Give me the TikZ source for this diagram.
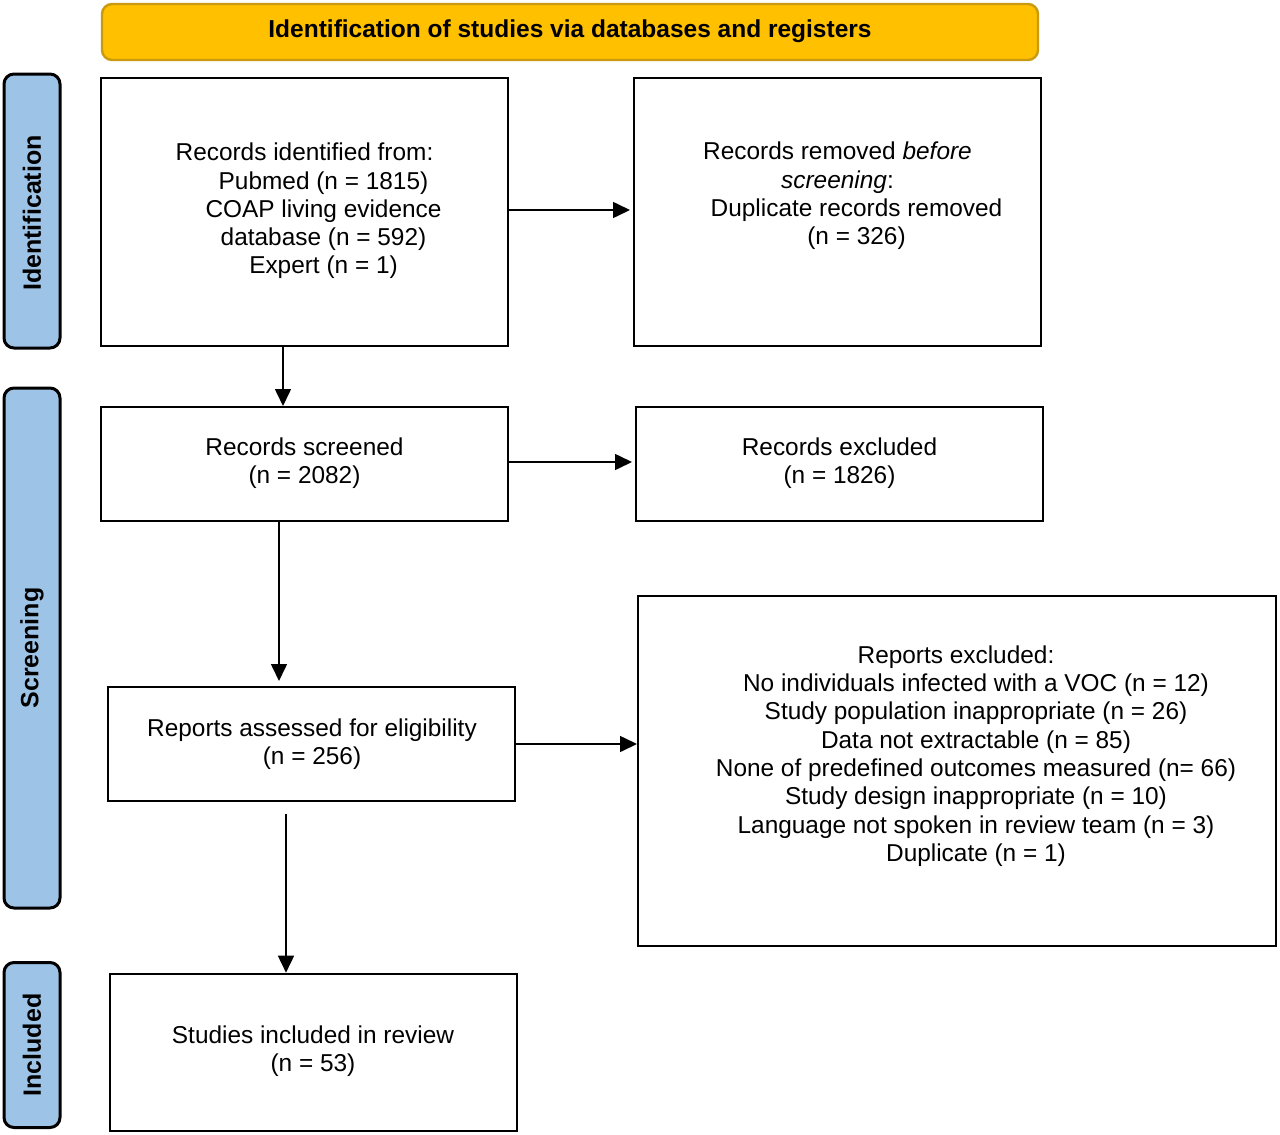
\documentclass[tikz,border=0pt]{standalone}
\usepackage{fontspec}
\setmainfont{Liberation Sans}
\usetikzlibrary{arrows.meta}
\definecolor{bannerfill}{HTML}{FFC000}
\definecolor{bannerdraw}{HTML}{C99A10}
\definecolor{sidefill}{HTML}{9DC3E6}
\begin{document}
\begin{tikzpicture}[x=1pt,y=-1pt,
  box/.style={draw=black,line width=2.6pt,fill=white,inner sep=0pt},
  txt/.style={align=center,inner sep=0pt,font=\fontsize{24.4}{28.3}\selectfont},
  side/.style={draw=black,line width=3pt,fill=sidefill,rounded corners=10pt,inner sep=0pt},
  sidetxt/.style={rotate=90,font=\bfseries\fontsize{25}{28}\selectfont},
  arr/.style={line width=1.6pt,-{Triangle[length=17pt,width=16pt]}}]
\useasboundingbox (0,0) rectangle (1280,1135);
% banner
\node[draw=bannerdraw,line width=2.4pt,fill=bannerfill,rounded corners=10pt,minimum width=936pt,minimum height=56pt,inner sep=0pt] (ban) at (570,32) {};
\node[font=\bfseries\fontsize{24.5}{28}\selectfont] (bant) at (570,31) {Identification of studies via databases and registers};
% side labels
\node[side,minimum width=56pt,minimum height=274pt] (s1) at (32,211) {};
\node[sidetxt] (s1t) at (32,213) {Identification};
\node[side,minimum width=56pt,minimum height=520pt] (s2) at (32,648) {};
\node[sidetxt] (s2t) at (32,648) {Screening};
\node[side,minimum width=56pt,minimum height=165pt] (s3) at (32,1045) {};
\node[sidetxt] (s3t) at (32,1045) {Included};
% boxes
\node[box,minimum width=407pt,minimum height=268pt] (A) at (304.5,212) {};
\node[txt] (At) at (304.5,211) {Records identified from:\\\hspace*{38pt}Pubmed (n = 1815)\\\hspace*{38pt}COAP living evidence\\\hspace*{38pt}database (n = 592)\\\hspace*{38pt}Expert (n = 1)};
\node[box,minimum width=407pt,minimum height=268pt] (B) at (837.5,212) {};
\node[txt] (Bt) at (847,196) {\hspace*{-19pt}Records removed \textit{before}\\\hspace*{-19pt}\textit{screening}:\\\hspace*{19pt}Duplicate records removed\\\hspace*{19pt}(n = 326)};
\node[box,minimum width=407pt,minimum height=114pt] (C) at (304.5,464) {};
\node[txt] (Ct) at (304.5,463) {Records screened\\(n = 2082)};
\node[box,minimum width=407pt,minimum height=114pt] (D) at (839.5,464) {};
\node[txt] (Dt) at (839.5,463) {Records excluded\\(n = 1826)};
\node[box,minimum width=407pt,minimum height=114pt] (E) at (311.5,744) {};
\node[txt] (Et) at (312,744) {Reports assessed for eligibility\\(n = 256)};
\node[box,minimum width=638pt,minimum height=350pt] (F) at (957,771) {};
\node[txt] (Ft) at (966,756) {\hspace*{-20pt}Reports excluded:\\\hspace*{20pt}No individuals infected with a VOC (n = 12)\\\hspace*{20pt}Study population inappropriate (n = 26)\\\hspace*{20pt}Data not extractable (n = 85)\\\hspace*{20pt}None of predefined outcomes measured (n= 66)\\\hspace*{20pt}Study design inappropriate (n = 10)\\\hspace*{20pt}Language not spoken in review team (n = 3)\\\hspace*{20pt}Duplicate (n = 1)};
\node[box,minimum width=407pt,minimum height=157pt] (G) at (313.5,1052.5) {};
\node[txt] (Gt) at (313,1051) {Studies included in review\\(n = 53)};
% connectors
\coordinate (eg) at (286,814);
\draw[arr] (A.east |- 0,210) -- (630,210);
\draw[arr] (A.south -| 283,0) -- (283,406);
\draw[arr] (C.east |- 0,462) -- (632,462);
\draw[arr] (C.south -| 279,0) -- (279,681);
\draw[arr] (E.east |- 0,744) -- (637,744);
\draw[arr] (eg) -- (eg |- G.north);
\end{tikzpicture}
\end{document}
